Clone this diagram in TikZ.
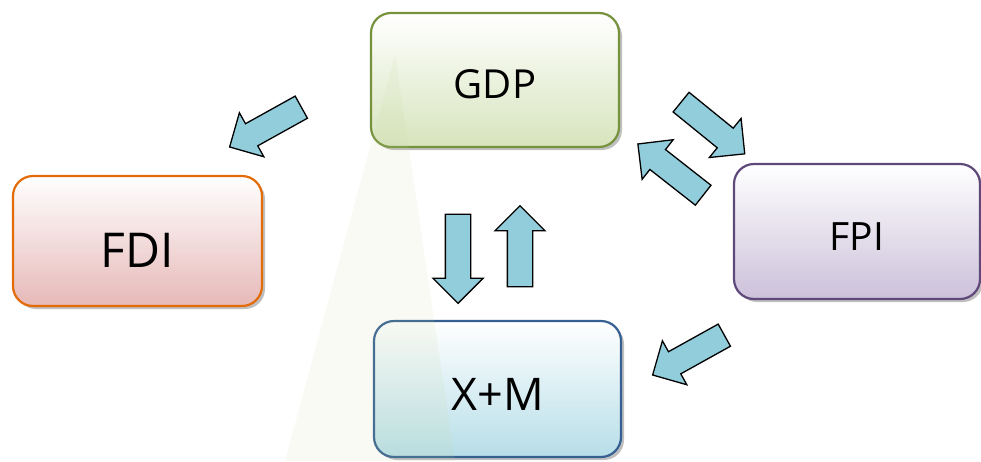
\documentclass[tikz,border=0pt]{standalone}
\usepackage{fontspec}
\setmainfont{Open Sans}
\usetikzlibrary{shapes.arrows,shadows}

\definecolor{gdpline}{HTML}{76923C}
\definecolor{gdpfill}{HTML}{D7E4BD}
\definecolor{fdiline}{HTML}{E36C09}
\definecolor{fdifill}{HTML}{E6B9B8}
\definecolor{fpiline}{HTML}{5F497A}
\definecolor{fpifill}{HTML}{CCC1DA}
\definecolor{xmline}{HTML}{366092}
\definecolor{xmfill}{HTML}{B7DEE8}
\definecolor{arrowfill}{HTML}{92CDDC}
\definecolor{markfill}{RGB}{200,215,160}

\tikzset{
    box/.style={draw, line width=2.2pt, rounded corners=20pt, text depth=0pt,
        drop shadow={shadow xshift=3pt, shadow yshift=-3pt, fill=black!50, opacity=0.5}},
    blockarrow/.style={single arrow, draw=black, line width=1.3pt, fill=arrowfill,
        inner sep=12pt, single arrow head extend=12.5pt, minimum width=0pt,
        sloped, allow upside down, midway}
}

\begin{document}
\begin{tikzpicture}[x=1pt,y=-1pt]
    \useasboundingbox (0,0) rectangle (981,461);

    % The four boxes
    \node[box, draw=gdpline, top color=white, bottom color=gdpfill,
        minimum width=248pt, minimum height=134pt, text height=36pt,
        font=\fontsize{40}{42}\selectfont] (gdp) at (495,80) {GDP};
    \node[box, draw=fdiline, top color=white, bottom color=fdifill,
        minimum width=249pt, minimum height=130pt, text height=52pt,
        font=\fontsize{48}{50}\selectfont] (fdi) at (137.5,241) {FDI};
    \node[box, draw=fpiline, top color=white, bottom color=fpifill,
        minimum width=246pt, minimum height=135pt, text height=37pt,
        font=\fontsize{39}{41}\selectfont] (fpi) at (857,231.5) {FPI};
    \node[box, draw=xmline, top color=white, bottom color=xmfill,
        minimum width=247pt, minimum height=136pt, text height=42pt,
        font=\fontsize{45}{47}\selectfont] (xm) at (497.5,389) {X+M};

    % Faint watermark in the background
    \fill[markfill, opacity=0.12] (395,55) -- (455,461) -- (285,461) -- cycle;

    % Block arrows: tail and tip of each
    \coordinate (a1s) at (307,104);  \coordinate (a1e) at (235,144);
    \coordinate (a2s) at (676,98);   \coordinate (a2e) at (740,150);
    \coordinate (a3s) at (708,199);  \coordinate (a3e) at (643,148);
    \coordinate (a4s) at (730,332);  \coordinate (a4e) at (658,372);
    \coordinate (a5s) at (458,208);  \coordinate (a5e) at (458,297);
    \coordinate (a6s) at (520,293);  \coordinate (a6e) at (520,212);

    \path (a1s) -- (a1e) node[blockarrow, minimum height=82pt] {};
    \path (a2s) -- (a2e) node[blockarrow, minimum height=82pt] {};
    \path (a3s) -- (a3e) node[blockarrow, minimum height=83pt] {};
    \path (a4s) -- (a4e) node[blockarrow, minimum height=82pt] {};
    \path (a5s) -- (a5e) node[blockarrow, minimum height=89pt] {};
    \path (a6s) -- (a6e) node[blockarrow, minimum height=81pt] {};
\end{tikzpicture}
\end{document}
